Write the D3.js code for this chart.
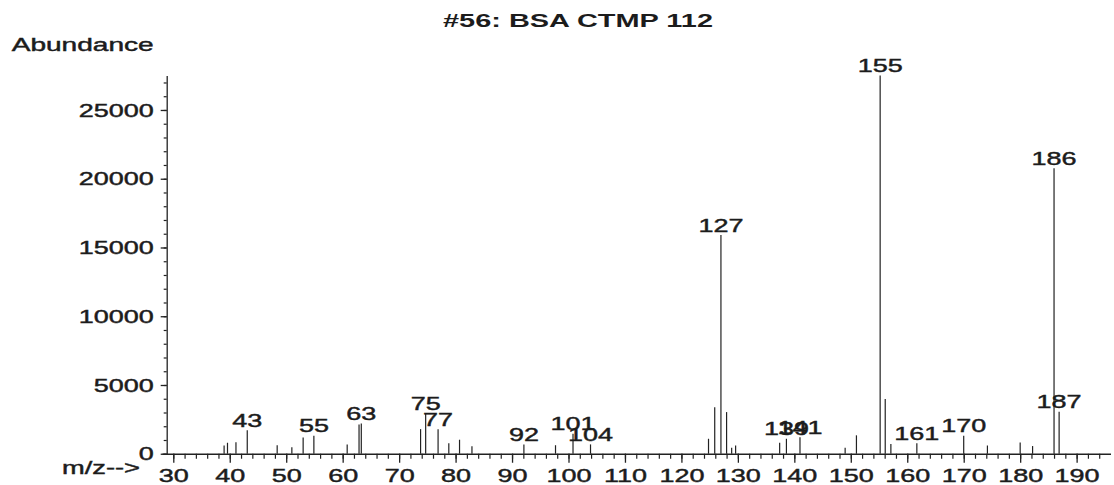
<!DOCTYPE html>
<html>
<head>
<meta charset="utf-8">
<script src="https://cdn.jsdelivr.net/npm/d3@7"></script>
<style>
  html, body { margin: 0; padding: 0; background: #fff; }
  svg { display: block; }
  text { font-family: "Liberation Sans", Arial, sans-serif; fill: #1c1c1c; }
  .thick { stroke: #1c1c1c; stroke-width: 0.45px; }
</style>
</head>
<body>
<svg id="chart" width="1114" height="485"></svg>
<script>
// ---- data ----
const titleText = "#56: BSA CTMP 112";
const yTitle = "Abundance";
const xTitle = "m/z-->";

const mz = [39.0, 39.6, 41.1, 43.1, 48.4, 51.0, 53.0, 54.9, 60.8, 62.9, 63.3,
            73.8, 74.7, 76.9, 78.8, 80.7, 82.9, 92.1, 97.7, 100.8, 103.9,
            124.8, 125.9, 127.0, 128.0, 128.9, 129.6, 137.4, 138.6, 141.0,
            149.0, 151.0, 155.2, 156.1, 157.1, 161.7, 170.0, 174.2, 180.0,
            182.2, 186.0, 186.9];
const abundance = [600, 800, 840, 1700, 620, 480, 1190, 1310, 680, 2130, 2200,
                   1790, 2900, 1790, 770, 1020, 550, 680, 620, 1450, 680,
                   1090, 3390, 15900, 3030, 440, 600, 800, 1090, 1200,
                   440, 1340, 27500, 3980, 710, 760, 1310, 600, 820,
                   560, 20760, 3060];

const labelPeaks = [43.1, 54.9, 63.3, 74.7, 76.9, 92.1, 100.8, 103.9, 127.0,
                    138.6, 141.0, 155.2, 161.7, 170.0, 186.0, 186.9];
const labelTexts = ["43", "55", "63", "75", "77", "92", "101", "104", "127",
                    "139", "141", "155", "161", "170", "186", "187"];

const xMajorTicks = [30, 40, 50, 60, 70, 80, 90, 100, 110, 120, 130, 140, 150, 160, 170, 180, 190];
const xMinorTicks = d3.range(30, 195, 2);
const yMajorTicks = [0, 5000, 10000, 15000, 20000, 25000];
const yMinorTicks = d3.range(0, 27001, 1000);

// ---- layout ----
const SX = 1.42;           // horizontal stretch of the lettering
const FS = 19;             // font size
const ink = "#222";

const svg = d3.select("#chart");

const x = d3.scaleLinear().domain([28, 196]).range([162.0, 1110.5]);
const y = d3.scaleLinear().domain([0, 27500]).range([453.75, 75.6]);

function stretchText(sel, dx, dy) {
  sel.attr("x", 0).attr("y", 0)
     .attr("transform", `translate(${dx},${dy}) scale(${SX},1)`);
}

// ---- y axis ----
const gyMinor = svg.append("g").attr("transform", `translate(${x(28) + 4.7},0)`)
  .call(d3.axisLeft(y).tickValues(yMinorTicks).tickSize(3).tickSizeOuter(0).tickFormat(""));
gyMinor.select(".domain").remove();
gyMinor.selectAll("line").attr("stroke", ink).attr("stroke-width", 1.2);

const gy = svg.append("g").attr("transform", `translate(${x(28) + 4.7},0)`)
  .call(d3.axisLeft(y).tickValues(yMajorTicks).tickSize(6).tickSizeOuter(0).tickPadding(7)
        .tickFormat(d3.format("d")));
gy.select(".domain").attr("stroke", ink).attr("stroke-width", 1.3);
gy.selectAll("line").attr("stroke", ink).attr("stroke-width", 1.3);
gy.selectAll("text")
  .attr("font-size", FS).attr("fill", "#1c1c1c").attr("class", "thick")
  .style("font-family", "'Liberation Sans', Arial, sans-serif")
  .each(function() { stretchText(d3.select(this), -13, 0); });

// ---- x axis ----
const gxMinor = svg.append("g").attr("transform", `translate(0,${y(0)})`)
  .call(d3.axisBottom(x).tickValues(xMinorTicks).tickSize(5).tickSizeOuter(0).tickFormat(""));
gxMinor.select(".domain").remove();
gxMinor.selectAll("line").attr("stroke", ink).attr("stroke-width", 1.2);

const gx = svg.append("g").attr("transform", `translate(0,${y(0)})`)
  .call(d3.axisBottom(x).tickValues(xMajorTicks).tickSize(9).tickSizeOuter(0).tickPadding(7)
        .tickFormat(d3.format("d")));
gx.select(".domain").attr("stroke", ink).attr("stroke-width", 1.3);
gx.selectAll("line").attr("stroke", ink).attr("stroke-width", 1.3);
gx.selectAll("text")
  .attr("font-size", FS).attr("fill", "#1c1c1c").attr("class", "thick")
  .style("font-family", "'Liberation Sans', Arial, sans-serif")
  .each(function() { stretchText(d3.select(this), 0, 15); });

// ---- peaks ----
const peaks = mz.map((m, i) => ({ m, a: abundance[i] }));
svg.append("g").selectAll("line").data(peaks).join("line")
  .attr("x1", d => x(d.m)).attr("x2", d => x(d.m))
  .attr("y1", y(0)).attr("y2", d => y(d.a))
  .attr("stroke", ink).attr("stroke-width", 1.2);

// ---- peak labels ----
const labels = labelPeaks.map((m, i) => ({ m, t: labelTexts[i], a: abundance[mz.indexOf(m)] }));
svg.append("g").selectAll("text").data(labels).join("text")
  .attr("font-size", FS).attr("text-anchor", "middle").attr("class", "thick")
  .text(d => d.t)
  .each(function(d) { stretchText(d3.select(this), x(d.m), y(d.a) - 3.5); });

// ---- titles ----
svg.append("text").attr("x", 443).attr("y", 26.7)
  .attr("font-size", 18.6).attr("font-weight", "bold")
  .attr("textLength", 270).attr("lengthAdjust", "spacingAndGlyphs")
  .text(titleText);

svg.append("text").attr("x", 11.7).attr("y", 50.7)
  .attr("font-size", 18.6).attr("class", "thick")
  .attr("textLength", 142).attr("lengthAdjust", "spacingAndGlyphs")
  .text(yTitle);

svg.append("text").attr("x", 62).attr("y", 474)
  .attr("font-size", FS).attr("class", "thick")
  .attr("textLength", 78).attr("lengthAdjust", "spacingAndGlyphs")
  .text(xTitle);
</script>
</body>
</html>
